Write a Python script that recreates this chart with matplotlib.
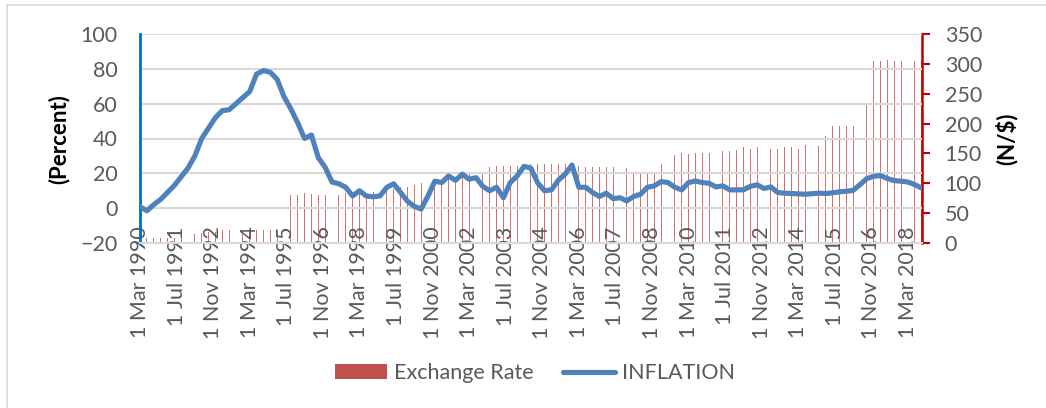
import numpy as np
import matplotlib
matplotlib.use("Agg")
import matplotlib.pyplot as plt
from matplotlib.patches import Patch, Rectangle
from matplotlib.lines import Line2D

plt.rcParams['font.family'] = ['Lato', 'DejaVu Sans']

# Quarterly observations, Mar 1990 .. Sep 2018 (month offsets from Mar 1990)
month_offset = np.arange(0, 343, 3)

inflation = [
    0.8, -1.5, 2, 5, 9, 13, 18, 23, 30, 40,
    46, 52, 56, 56.5, 60, 63.5, 67, 77, 79, 78,
    74, 64, 57, 49, 40, 42, 29, 23.5, 15, 14,
    12, 7, 10, 7, 6.5, 7, 12, 14, 9, 4,
    1, -0.5, 7, 15.5, 14.7, 18.5, 16, 19.5, 16.6, 17.5,
    12.5, 10, 12, 6, 14.7, 18.5, 24, 23, 14.5, 10,
    10.5, 16, 19.5, 24.8, 12, 12, 9, 6.7, 8.6, 5.5,
    6, 4.2, 6.7, 8, 12, 12.8, 15.3, 14.7, 12, 10.5,
    14.7, 15.6, 14.7, 14.3, 12.2, 12.8, 10.5, 10.5, 10.5, 12.5,
    13.4, 11.3, 12.2, 9, 8.6, 8.4, 8.2, 8, 8.3, 8.6,
    8.4, 8.8, 9.4, 9.7, 10.2, 13.5, 17, 18.3, 18.7, 17,
    15.8, 15.5, 15, 13.5, 11.5,
]

exchange_rate = [
    8, 8.5, 8.5, 8, 9, 8, 10.5, 9.5, 14.5, 16,
    18, 19, 21, 22, 22, 22, 22, 22, 22, 22,
    22, 82, 80, 80, 83, 82, 80, 80, 79, 80,
    83, 84, 85, 84, 86, 87, 89, 91, 93, 94,
    97, 100, 101, 103, 105, 108, 111, 114, 115.6, 116.7,
    119.5, 127, 129, 129, 129, 129, 139, 133, 132, 132,
    132, 132, 132, 132, 129.5, 128, 128, 128, 128, 128,
    127, 125, 117, 117, 117, 117, 132.5, 146.5, 148, 151.5,
    149, 150, 151, 151, 152, 154, 154.7, 155.8, 161, 157.5,
    161, 157, 157, 157.5, 160, 161, 158, 164, 162.5, 162.5,
    179, 196, 196, 196, 196, 196, 231, 305, 305, 306.5,
    305, 305.5, 305.5, 305.5, 305,
]

tick_offsets = list(range(0, 337, 16))
tick_labels = [
    "1 Mar 1990", "1 Jul 1991", "1 Nov 1992", "1 Mar 1994", "1 Jul 1995",
    "1 Nov 1996", "1 Mar 1998", "1 Jul 1999", "1 Nov 2000", "1 Mar 2002",
    "1 Jul 2003", "1 Nov 2004", "1 Mar 2006", "1 Jul 2007", "1 Nov 2008",
    "1 Mar 2010", "1 Jul 2011", "1 Nov 2012", "1 Mar 2014", "1 Jul 2015",
    "1 Nov 2016", "1 Mar 2018",
]

W, H = 1046, 408
fig = plt.figure(figsize=(W / 100, H / 100), dpi=100)
ax = fig.add_axes([140 / W, (H - 243) / H, 781.7 / W, 209 / H])
ax2 = ax.twinx()

BAR_C = '#C0504D'
LINE_C = '#4F81BD'
TXT_C = '#595959'
FS = 15.5

ax2.bar(month_offset, exchange_rate, width=0.42, color=BAR_C, alpha=0.8,
        linewidth=0, zorder=2)
ax.plot(month_offset, inflation, color=LINE_C, lw=3.7,
        solid_joinstyle='round', solid_capstyle='round', zorder=3)

ax.set_zorder(ax2.get_zorder() + 1)
ax.patch.set_visible(False)

ax.set_xlim(0, 342)
ax.set_ylim(-20, 100)
ax.set_yticks(range(-20, 101, 20))
ax2.set_ylim(0, 350)
ax2.set_yticks(range(0, 351, 50))

ax.yaxis.grid(True, color='#D9D9D9', lw=1.5)
ax.set_axisbelow(True)

for s in ['top', 'right']:
    ax.spines[s].set_visible(False)
ax.spines['left'].set_color('#0070C0')
ax.spines['left'].set_linewidth(2)
ax.spines['bottom'].set_color('#D9D9D9')
ax.spines['bottom'].set_linewidth(1.5)
for s in ['top', 'left', 'bottom']:
    ax2.spines[s].set_visible(False)
ax2.spines['right'].set_color('#C00000')
ax2.spines['right'].set_linewidth(1.8)

ax.tick_params(axis='y', length=0, pad=16, labelsize=FS, labelcolor=TXT_C)
ax.set_xticks(tick_offsets)
ax.set_xticklabels(tick_labels, rotation=90)
ax.tick_params(axis='x', length=0, pad=-12, labelsize=FS, labelcolor=TXT_C)
ax2.tick_params(axis='y', length=6, width=1.5, color='#C00000', pad=10.5,
                labelsize=FS, labelcolor=TXT_C)

fig.text(58.5 / W, 1 - 139 / H, '(Percent)', rotation=90, fontweight='bold',
         fontsize=16, ha='center', va='center', color='black')
fig.text(1006.5 / W, 1 - 138.5 / H, r'(N/\$)', rotation=90, fontweight='bold',
         fontsize=16, ha='center', va='center', color='black')

handles = [Patch(facecolor=BAR_C, edgecolor='none'),
           Line2D([0], [0], color=LINE_C, lw=3.7, solid_capstyle='round')]
fig.legend(handles, ['Exchange Rate', 'INFLATION'], loc='center',
           bbox_to_anchor=(535 / W, 1 - 373 / H), ncol=2, frameon=False,
           fontsize=FS, labelcolor=TXT_C, handlelength=2.4, handleheight=0.65,
           handletextpad=0.3, columnspacing=1.4)

fig.add_artist(Rectangle((7 / W, -0.5), 2, 1.5 - 5 / H, transform=fig.transFigure,
                         fill=False, edgecolor='#D9D9D9', lw=1.2))

fig.savefig('out.png', dpi=100)
